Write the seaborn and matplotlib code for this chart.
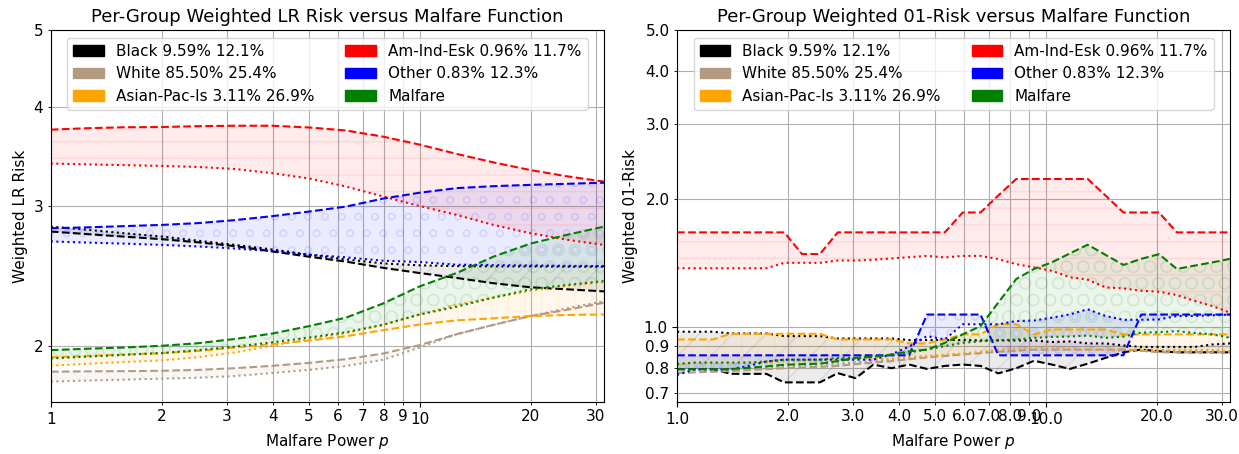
import numpy as np
import pandas as pd
import matplotlib
matplotlib.use("Agg")
import matplotlib.pyplot as plt
import matplotlib.patches as mpatches
from matplotlib.ticker import FormatStrFormatter
import seaborn as sns

# ---------------- data ----------------
labels = ["Black 9.59% 12.1%", "White 85.50% 25.4%", "Asian-Pac-Is 3.11% 26.9%",
          "Am-Ind-Esk 0.96% 11.7%", "Other 0.83% 12.3%", "Malfare"]
colors = ["black", "#b39b82", "orange", "red", "blue", "green"]
hatches = ["/", "\\", "|", "-", "o", "O"]

# Left panel: malfare power p and weighted LR risk
p_lr = [1.0, 1.26, 1.58, 2.0, 2.51, 3.16, 3.98, 5.01, 6.31, 7.94, 10.0, 12.59, 15.85, 19.95, 25.12, 31.62]

lr_black_dash = [2.786, 2.765, 2.745, 2.725, 2.70, 2.67, 2.63, 2.59, 2.553, 2.508, 2.47, 2.435, 2.398, 2.37, 2.356, 2.342]
lr_black_dot = [2.826, 2.80, 2.772, 2.746, 2.713, 2.68, 2.645, 2.605, 2.57, 2.54, 2.526, 2.52, 2.518, 2.518, 2.516, 2.516]
lr_white_dash = [1.855, 1.857, 1.858, 1.86, 1.865, 1.874, 1.887, 1.903, 1.924, 1.955, 2.004, 2.068, 2.125, 2.18, 2.22, 2.266]
lr_white_dot = [1.803, 1.808, 1.813, 1.818, 1.823, 1.832, 1.848, 1.865, 1.886, 1.92, 1.99, 2.068, 2.125, 2.18, 2.23, 2.276]
lr_asian_dash = [1.934, 1.942, 1.95, 1.958, 1.97, 1.99, 2.01, 2.03, 2.056, 2.092, 2.127, 2.153, 2.166, 2.18, 2.187, 2.19]
lr_asian_dot = [1.888, 1.898, 1.908, 1.917, 1.935, 1.962, 2.0, 2.039, 2.075, 2.125, 2.19, 2.254, 2.30, 2.345, 2.38, 2.406]
lr_amind_dash = [3.744, 3.76, 3.77, 3.773, 3.782, 3.787, 3.787, 3.768, 3.735, 3.67, 3.585, 3.49, 3.405, 3.33, 3.27, 3.22]
lr_amind_dot = [3.394, 3.385, 3.378, 3.37, 3.36, 3.34, 3.30, 3.25, 3.175, 3.085, 3.00, 2.924, 2.84, 2.773, 2.72, 2.68]
lr_other_dash = [2.813, 2.82, 2.83, 2.84, 2.855, 2.88, 2.913, 2.952, 2.995, 3.065, 3.118, 3.16, 3.178, 3.19, 3.20, 3.21]
lr_other_dot = [2.707, 2.698, 2.69, 2.68, 2.668, 2.652, 2.632, 2.605, 2.585, 2.56, 2.55, 2.53, 2.527, 2.525, 2.522, 2.52]
lr_malf_dash = [1.975, 1.983, 1.99, 2.00, 2.015, 2.04, 2.072, 2.117, 2.17, 2.26, 2.376, 2.47, 2.59, 2.69, 2.76, 2.826]
lr_malf_dot = [1.928, 1.938, 1.948, 1.958, 1.975, 1.995, 2.02, 2.048, 2.08, 2.125, 2.19, 2.24, 2.30, 2.356, 2.386, 2.413]

# Right panel: malfare power p and weighted 0-1 risk
p_01 = [1.0, 1.118, 1.250, 1.397, 1.562, 1.746, 1.952, 2.182, 2.439, 2.726, 3.048, 3.407,
        3.809, 4.258, 4.760, 5.321, 5.948, 6.649, 7.430, 8.309, 9.288, 10.38, 11.61, 12.98,
        14.50, 16.22, 18.13, 20.26, 22.65, 25.32, 28.31, 31.62]

r01_black_dash = [0.796, 0.796, 0.796, 0.776, 0.776, 0.776, 0.741, 0.741, 0.741, 0.779, 0.758, 0.816,
                  0.80, 0.816, 0.797, 0.81, 0.816, 0.81, 0.778, 0.80, 0.833, 0.816, 0.797, 0.82,
                  0.846, 0.872, 0.885, 0.877, 0.872, 0.872, 0.872, 0.872]
r01_black_dot = [0.975, 0.975, 0.975, 0.966, 0.966, 0.966, 0.952, 0.952, 0.952, 0.94, 0.94, 0.94,
                 0.94, 0.932, 0.932, 0.932, 0.932, 0.93, 0.93, 0.93, 0.93, 0.922, 0.925, 0.915,
                 0.915, 0.905, 0.898, 0.898, 0.898, 0.898, 0.91, 0.915]
r01_white_dash = [0.78, 0.782, 0.785, 0.788, 0.792, 0.796, 0.80, 0.803, 0.806, 0.81, 0.818, 0.825,
                  0.831, 0.84, 0.848, 0.855, 0.862, 0.868, 0.875, 0.88, 0.885, 0.885, 0.885, 0.885,
                  0.885, 0.885, 0.88, 0.872, 0.872, 0.872, 0.872, 0.872]
r01_white_dot = [0.79, 0.792, 0.795, 0.797, 0.80, 0.804, 0.808, 0.812, 0.816, 0.82, 0.826, 0.832,
                 0.838, 0.845, 0.852, 0.858, 0.865, 0.87, 0.876, 0.88, 0.884, 0.885, 0.885, 0.884,
                 0.882, 0.88, 0.878, 0.876, 0.876, 0.876, 0.876, 0.876]
r01_asian_dash = [0.935, 0.935, 0.935, 0.964, 0.964, 0.964, 0.964, 0.964, 0.964, 0.935, 0.935, 0.935,
                  0.935, 0.915, 0.915, 0.935, 0.961, 0.961, 1.015, 1.015, 0.961, 0.987, 0.987, 0.987,
                  0.987, 0.961, 0.961, 0.961, 0.961, 0.961, 0.961, 0.961]
r01_asian_dot = [0.815, 0.823, 0.823, 0.823, 0.823, 0.823, 0.831, 0.831, 0.831, 0.831, 0.842, 0.842,
                 0.842, 0.85, 0.855, 0.86, 0.866, 0.875, 0.885, 0.89, 0.897, 0.895, 0.892, 0.885,
                 0.885, 0.885, 0.883, 0.883, 0.883, 0.883, 0.883, 0.877]
r01_amind_dash = [1.67, 1.67, 1.67, 1.67, 1.67, 1.67, 1.67, 1.485, 1.485, 1.67, 1.67, 1.67,
                  1.67, 1.67, 1.67, 1.67, 1.86, 1.86, 2.04, 2.23, 2.23, 2.23, 2.23, 2.23,
                  2.04, 1.86, 1.86, 1.86, 1.67, 1.67, 1.67, 1.67]
r01_amind_dot = [1.375, 1.375, 1.375, 1.375, 1.375, 1.375, 1.416, 1.416, 1.416, 1.434, 1.434, 1.44,
                 1.45, 1.46, 1.47, 1.458, 1.47, 1.47, 1.445, 1.406, 1.381, 1.356, 1.31, 1.293,
                 1.24, 1.233, 1.217, 1.211, 1.189, 1.152, 1.12, 1.08]
r01_other_dash = [0.858, 0.858, 0.858, 0.858, 0.858, 0.858, 0.858, 0.858, 0.858, 0.858, 0.858, 0.858,
                  0.858, 0.858, 1.07, 1.07, 1.07, 1.07, 0.858, 0.858, 0.858, 0.858, 0.858, 0.858,
                  0.858, 0.858, 1.07, 1.07, 1.07, 1.07, 1.07, 1.07]
r01_other_dot = [0.772, 0.795, 0.795, 0.795, 0.81, 0.83, 0.838, 0.838, 0.838, 0.838, 0.838, 0.838,
                 0.862, 0.90, 0.952, 0.935, 1.015, 1.015, 1.015, 1.033, 1.036, 1.052, 1.071, 1.101,
                 1.062, 1.04, 1.04, 1.042, 1.062, 1.062, 1.066, 1.07]
r01_malf_dash = [0.796, 0.796, 0.796, 0.796, 0.802, 0.808, 0.815, 0.818, 0.82, 0.831, 0.846, 0.852,
                 0.861, 0.877, 0.885, 0.918, 0.961, 1.005, 1.142, 1.297, 1.37, 1.42, 1.49, 1.562,
                 1.479, 1.40, 1.447, 1.484, 1.37, 1.395, 1.42, 1.447]
r01_malf_dot = [0.819, 0.825, 0.825, 0.825, 0.825, 0.83, 0.838, 0.838, 0.838, 0.846, 0.846, 0.852,
                0.861, 0.872, 0.885, 0.902, 0.918, 0.926, 0.931, 0.935, 0.943, 0.948, 0.95, 0.955,
                0.943, 0.95, 0.97, 0.972, 0.978, 0.968, 0.961, 0.943]

lr_dash = [lr_black_dash, lr_white_dash, lr_asian_dash, lr_amind_dash, lr_other_dash, lr_malf_dash]
lr_dot = [lr_black_dot, lr_white_dot, lr_asian_dot, lr_amind_dot, lr_other_dot, lr_malf_dot]
r01_dash = [r01_black_dash, r01_white_dash, r01_asian_dash, r01_amind_dash, r01_other_dash, r01_malf_dash]
r01_dot = [r01_black_dot, r01_white_dot, r01_asian_dot, r01_amind_dot, r01_other_dot, r01_malf_dot]

# ---------------- plot ----------------
fig, axes = plt.subplots(1, 2, figsize=(12.39, 4.54), dpi=100)
fig.subplots_adjust(left=0.041, right=0.993, top=0.934, bottom=0.115, wspace=0.132)


def draw(ax, p, dashes, dots, fmt, ylim, ylabel, title):
    for c, h, yd, yo in zip(colors, hatches, dashes, dots):
        ax.fill_between(p, yd, yo, color=c, alpha=0.08, hatch=h, linewidth=0)
    for c, yd, yo in zip(colors, dashes, dots):
        sns.lineplot(x=p, y=yd, ax=ax, color=c, linestyle="--", linewidth=1.5)
        sns.lineplot(x=p, y=yo, ax=ax, color=c, linestyle=":", linewidth=1.5)
    ax.set_xscale("log")
    ax.set_yscale("log")
    ax.set_xlim(1, 31.62)
    ax.set_ylim(*ylim)
    for axis in (ax.xaxis, ax.yaxis):
        axis.set_major_formatter(FormatStrFormatter(fmt))
        axis.set_minor_formatter(FormatStrFormatter(fmt))
    ax.grid(True, which="both", color="#b0b0b0", linewidth=0.8)
    ax.set_axisbelow(True)
    ax.set_xlabel("Malfare Power $p$", fontsize=11)
    ax.set_ylabel(ylabel, fontsize=11)
    ax.set_title(title, fontsize=13)
    ax.tick_params(which="both", labelsize=11)
    handles = [mpatches.Patch(color=c, label=l) for c, l in zip(colors, labels)]
    ax.legend(handles=handles, loc="upper center", ncol=2, fontsize=11)


draw(axes[0], p_lr, lr_dash, lr_dot, "%g", (1.7, 5.0), "Weighted LR Risk",
     "Per-Group Weighted LR Risk versus Malfare Function")
draw(axes[1], p_01, r01_dash, r01_dot, "%.1f", (0.667, 5.0), "Weighted 01-Risk",
     "Per-Group Weighted 01-Risk versus Malfare Function")

fig.savefig("out.png", dpi=100)
